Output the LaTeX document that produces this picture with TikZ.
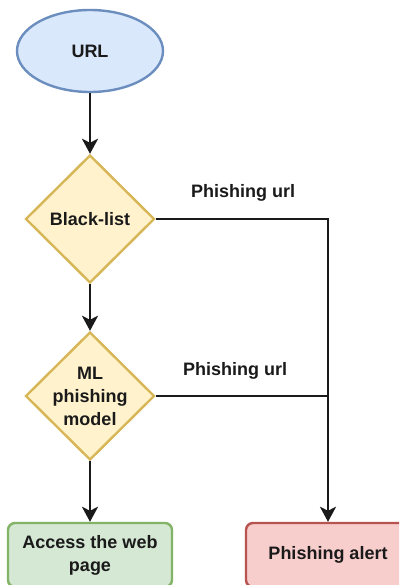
\documentclass[tikz,border=0pt]{standalone}
\usepackage{fontspec}
\setmainfont{Liberation Sans}
\usetikzlibrary{shapes.geometric,arrows.meta}
\definecolor{urlfill}{HTML}{DAE8FC}\definecolor{urldraw}{HTML}{6C8EBF}
\definecolor{decfill}{HTML}{FFF2CC}\definecolor{decdraw}{HTML}{D6B656}
\definecolor{okfill}{HTML}{D5E8D4}\definecolor{okdraw}{HTML}{82B366}
\definecolor{badfill}{HTML}{F8CECC}\definecolor{baddraw}{HTML}{B85450}
\definecolor{ink}{HTML}{1A1A1A}
\tikzset{
  txt/.style={font=\fontsize{18}{23}\selectfont\bfseries, text=ink, align=center},
  startnode/.style={ellipse, draw=urldraw, fill=urlfill, line width=2.4pt,
    minimum width=146pt, minimum height=82pt, inner sep=0pt, txt},
  decision/.style={diamond, draw=decdraw, fill=decfill, line width=2.4pt,
    minimum width=129pt, minimum height=128pt, inner sep=0pt},
  endbox/.style={rectangle, rounded corners=7pt, line width=2.4pt,
    minimum width=164pt, minimum height=64pt, inner sep=0pt, txt},
  flow/.style={draw=ink, line width=2.9pt},
  arr/.style={flow, -{Stealth[length=15pt,width=16pt,inset=4pt]}},
}
\begin{document}
\begin{tikzpicture}[x=1pt,y=-1pt]
  \useasboundingbox (0,0) rectangle (399,585);
  \clip (0,0) rectangle (399,585);
  \fill[white] (0,0) rectangle (399,585);

  % shapes
  \node[startnode] (url) at (90,51) {URL};
  \node[decision, label={[txt]center:Black-list}] (bl) at (90,219) {};
  \node[decision, label={[txt]center:ML\\phishing\\model}] (ml) at (90,396) {};
  \node[endbox, draw=okdraw, fill=okfill] (acc) at (90,555) {Access the web\\page};
  \node[endbox, draw=baddraw, fill=badfill] (pa) at (328,555) {Phishing alert};

  % connectors
  \draw[arr] (url.south) -- (bl.north);
  \draw[arr] (bl.south) -- (ml.north);
  \draw[arr] (ml.south) -- (acc.north);
  \draw[arr] (bl.east) -| (pa.north);
  \coordinate (mj) at (pa.north |- ml.east);
  \draw[flow] (ml.east) -- (mj);

  % edge labels
  \node[txt] (l1) at (243,193) {Phishing url};
  \node[txt] (l2) at (235,371) {Phishing url};
\end{tikzpicture}
\end{document}
